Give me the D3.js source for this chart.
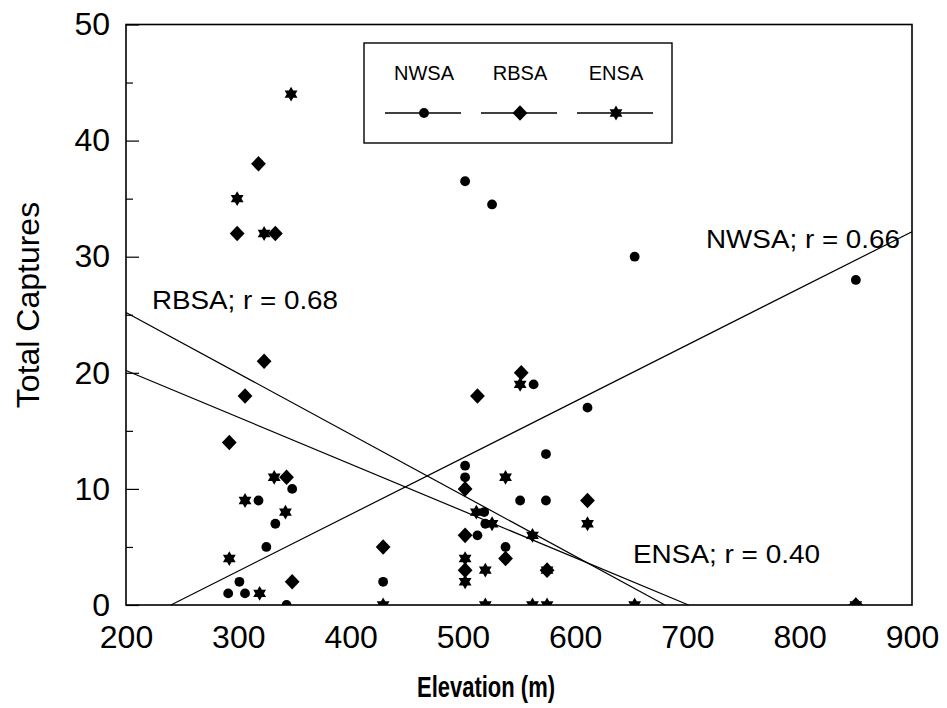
<!DOCTYPE html>
<html>
<head>
<meta charset="utf-8">
<script src="https://cdn.jsdelivr.net/npm/d3@7"></script>
<style>
  body { margin: 0; background: #fff; }
  svg { display: block; }
</style>
</head>
<body>
<svg id="chart" width="947" height="708"></svg>
<script>
// ---------------- data ----------------
const xTicks = [200, 300, 400, 500, 600, 700, 800, 900];
const yTicks = [0, 10, 20, 30, 40, 50];
const yMinorTicks = [5, 15, 25, 35, 45];
const seriesNames = ["NWSA", "RBSA", "ENSA"];

const nwsaElev     = [291, 301, 306, 318, 325, 333, 343, 348, 429, 502, 502, 502,  513, 519, 520, 526,  538, 551, 563, 574, 574, 611, 653, 850];
const nwsaCaptures = [1,   2,   1,   9,   5,   7,   0,   10,  2,   12,  11,  36.5, 6,   8,   7,   34.5, 5,   9,   19,  13,  9,   17,  30,  28];

const rbsaElev     = [292, 299, 306, 318, 323, 333, 343, 348, 429, 502, 502, 502, 513, 538, 552, 575, 611, 850];
const rbsaCaptures = [14,  32,  18,  38,  21,  32,  11,  2,   5,   10,  6,   3,   18,  4,   20,  3,   9,   0];

const ensaElev     = [292, 299, 306, 319, 323, 332, 342, 347, 429, 502, 502, 512, 520, 520, 526, 538, 551, 562, 562, 575, 575, 611, 653, 850];
const ensaCaptures = [4,   35,  9,   1,   32,  11,  8,   44,  0,   4,   2,   8,   3,   0,   7,   11,  19,  6,   0,   3,   0,   7,   0,   0];

// regression lines (elevation, captures) endpoints
const nwsaFit = [[240, 0], [900, 32.15]];
const rbsaFit = [[200, 25.2], [680, 0]];
const ensaFit = [[200, 20.2], [701, 0]];
const fitLabels = ["NWSA; r = 0.66", "RBSA; r = 0.68", "ENSA; r = 0.40"];

const xTitle = "Elevation (m)";
const yTitle = "Total Captures";

// ---------------- chart ----------------
const svg = d3.select("#chart");
const FONT = "Arial, 'Liberation Sans', Helvetica, sans-serif";

const x = d3.scaleLinear().domain([200, 900]).range([126, 912]);
const y = d3.scaleLinear().domain([0, 50]).range([605, 24.5]);

svg.append("defs").append("clipPath").attr("id", "plotclip")
  .append("rect")
  .attr("x", x(200)).attr("y", y(50))
  .attr("width", x(900) - x(200)).attr("height", y(0) - y(50));

// y axis major ticks (inside) + labels
const yAxis = svg.append("g")
  .attr("transform", `translate(${x(200)},0)`)
  .call(d3.axisLeft(y).tickValues(yTicks).tickSizeInner(-13).tickSizeOuter(0).tickPadding(16).tickFormat(d3.format("d")));
yAxis.select(".domain").remove();
yAxis.selectAll("line").attr("stroke", "#000").attr("stroke-width", 1.2);
yAxis.selectAll("text").attr("font-family", FONT).attr("font-size", 32).attr("fill", "#000");

// y minor ticks
const yMinor = svg.append("g")
  .attr("transform", `translate(${x(200)},0)`)
  .call(d3.axisLeft(y).tickValues(yMinorTicks).tickSizeInner(-7).tickSizeOuter(0).tickFormat(""));
yMinor.select(".domain").remove();
yMinor.selectAll("line").attr("stroke", "#000").attr("stroke-width", 1.2);

// x axis labels
const xAxis = svg.append("g")
  .attr("transform", `translate(0,${y(0)})`)
  .call(d3.axisBottom(x).tickValues(xTicks).tickSize(0).tickPadding(20).tickFormat(d3.format("d")));
xAxis.select(".domain").remove();
xAxis.selectAll("text").attr("font-family", FONT).attr("font-size", 32).attr("fill", "#000");

// frame
svg.append("rect")
  .attr("x", x(200)).attr("y", y(50))
  .attr("width", x(900) - x(200)).attr("height", y(0) - y(50))
  .attr("fill", "none").attr("stroke", "#000").attr("stroke-width", 1.6);

// fit lines
const line = d3.line().x(d => x(d[0])).y(d => y(d[1]));
[nwsaFit, rbsaFit, ensaFit].forEach(f => {
  svg.append("path").attr("d", line(f))
    .attr("fill", "none").attr("stroke", "#000").attr("stroke-width", 1.2);
});

// marker shapes
const R = 7.4;
const s60 = Math.sin(Math.PI / 3);
const starPath = `M0,${-R}L${R*s60},${R/2}L${-R*s60},${R/2}Z M0,${R}L${-R*s60},${-R/2}L${R*s60},${-R/2}Z`;
const diamondPath = "M0,-7.8L7.4,0L0,7.8L-7.4,0Z";

const marks = svg.append("g").attr("clip-path", "url(#plotclip)");

marks.selectAll("circle.nwsa")
  .data(d3.zip(nwsaElev, nwsaCaptures))
  .join("circle").attr("class", "nwsa")
  .attr("cx", d => x(d[0])).attr("cy", d => y(d[1])).attr("r", 4.9)
  .attr("fill", "#000");

marks.selectAll("path.rbsa")
  .data(d3.zip(rbsaElev, rbsaCaptures))
  .join("path").attr("class", "rbsa")
  .attr("d", diamondPath)
  .attr("transform", d => `translate(${x(d[0])},${y(d[1])})`)
  .attr("fill", "#000");

marks.selectAll("path.ensa")
  .data(d3.zip(ensaElev, ensaCaptures))
  .join("path").attr("class", "ensa")
  .attr("d", starPath)
  .attr("transform", d => `translate(${x(d[0])},${y(d[1])})`)
  .attr("fill", "#000");

// fit labels
const labelPos = [[706, 248], [152, 309], [633, 563]];
const labelLen = [194, 186, 187];
fitLabels.forEach((t, i) => {
  svg.append("text")
    .attr("x", labelPos[i][0]).attr("y", labelPos[i][1])
    .attr("font-family", FONT).attr("font-size", 26).attr("fill", "#000")
    .attr("textLength", labelLen[i]).attr("lengthAdjust", "spacingAndGlyphs")
    .text(t);
});

// legend
const lg = svg.append("g");
lg.append("rect").attr("x", 364).attr("y", 43).attr("width", 308).attr("height", 100)
  .attr("fill", "#fff").attr("stroke", "#000").attr("stroke-width", 1.4);
const legendCx = [424, 520, 616];
const legendShapes = ["circle", diamondPath, starPath];
seriesNames.forEach((name, i) => {
  const cx = legendCx[i];
  lg.append("text").attr("x", cx).attr("y", 80).attr("text-anchor", "middle")
    .attr("font-family", FONT).attr("font-size", 20).attr("fill", "#000").text(name);
  lg.append("line").attr("x1", cx - 39).attr("x2", cx + 37).attr("y1", 113).attr("y2", 113)
    .attr("stroke", "#000").attr("stroke-width", 1.5);
  if (i === 0) {
    lg.append("circle").attr("cx", cx).attr("cy", 113).attr("r", 4.9).attr("fill", "#000");
  } else {
    lg.append("path").attr("d", legendShapes[i]).attr("transform", `translate(${cx},113)`).attr("fill", "#000");
  }
});

// axis titles
svg.append("text")
  .attr("x", 486).attr("y", 697).attr("text-anchor", "middle")
  .attr("font-family", "'Liberation Sans Narrow', 'Arial Narrow', " + FONT)
  .attr("font-weight", "bold").attr("font-size", 29)
  .attr("textLength", 138).attr("lengthAdjust", "spacingAndGlyphs")
  .attr("fill", "#000").text(xTitle);

svg.append("text")
  .attr("transform", "translate(39,305) rotate(-90)")
  .attr("text-anchor", "middle")
  .attr("font-family", FONT).attr("font-size", 32).attr("fill", "#000")
  .text(yTitle);
</script>
</body>
</html>
